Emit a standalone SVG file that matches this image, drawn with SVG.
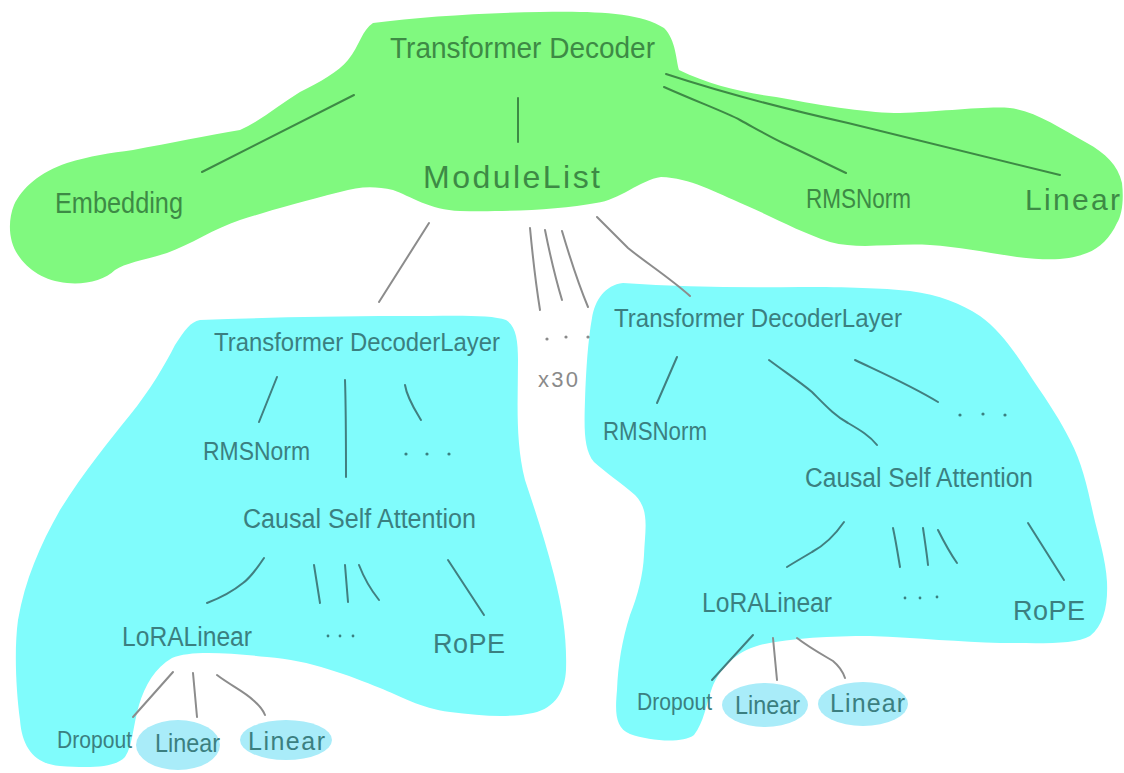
<svg xmlns="http://www.w3.org/2000/svg" width="1124" height="773" viewBox="0 0 1124 773">
  <style>
    .blob-green { fill: #80f97f; }
    .blob-cyan { fill: #80fcfc; }
    .blob-leaf { fill: #a9ecf9; }
    .t { font-family: "Liberation Sans", Arial, sans-serif; }
    .fit { }
    .tg { fill: #3d8a45; }
    .tc { fill: #3b7f80; }
    .tx { fill: #8a8a8a; }
    .edge { fill: none; stroke-width: 2; stroke-linecap: round; stroke-linejoin: round; }
    .eg { stroke: #3d8a45; }
    .ec { stroke: #417f80; }
    .ex { stroke: #8c8c8c; }
    .dc { fill: #3b7f80; }
    .dx { fill: #8a8a8a; }
  </style>

  <rect width="1124" height="773" fill="#ffffff"/>

  <!-- background regions -->
  <g id="regions">
    <path class="blob-green" d="M373,23 C420,17 480,13 540,12 C590,11 640,12 664,28 C676,40 676,60 679,70 C710,85 740,92 776,97 C830,107 870,113 900,113 C940,112 985,106 1010,108 C1035,111 1060,128 1087,143 C1105,153 1118,165 1122,183 C1124,200 1122,215 1117,223 C1110,238 1100,248 1087,253 C1070,260 1050,261 1017,257 C990,253 960,247 930,245 C890,243 860,250 830,242 C800,232 775,218 745,205 C715,192 690,178 661,177 C640,180 620,200 596,203 C560,210 500,212 460,211 C430,210 410,196 393,190 C375,186 360,186 340,192 C300,202 265,212 240,220 C215,228 190,245 167,253 C145,260 125,263 115,270 C105,280 85,285 67,283 C45,281 28,270 18,255 C8,240 8,220 14,205 C22,188 40,172 67,163 C90,156 110,153 133,150 C170,143 210,135 240,130 C262,120 280,104 300,92 C320,82 338,72 348,60 C360,45 362,30 373,23 Z"/>
    <path class="blob-cyan" d="M200,320 C260,318 320,316 400,316 C450,316 490,314 506,320 C516,326 518,340 518,360 C518,400 515,440 525,480 C535,510 545,540 554,575 C563,610 567,640 566,670 C565,690 556,708 533,713 C510,718 480,716 450,712 C420,708 400,696 380,688 C350,676 310,660 267,657 C230,653 190,650 172,658 C155,668 145,685 139,705 C133,725 133,745 125,757 C115,768 90,768 60,766 C35,764 22,748 20,720 C16,690 14,650 18,620 C25,580 40,545 60,510 C85,470 110,440 130,415 C150,390 165,365 175,345 C185,330 190,322 200,320 Z"/>
    <path class="blob-cyan" d="M623,283 C680,287 740,288 800,287 C850,287 880,288 910,291 C940,295 960,303 980,316 C1000,330 1015,352 1033,380 C1050,405 1060,420 1070,440 C1082,462 1088,490 1093,513 C1098,535 1106,560 1107,582 C1108,605 1104,625 1090,636 C1075,645 1040,643 1000,643 C960,642 920,638 870,636 C830,636 790,638 760,645 C735,652 720,668 712,688 C706,705 704,722 694,735 C682,744 650,741 630,734 C615,728 615,712 617,690 C618,665 622,640 630,615 C638,595 643,575 644,555 C645,530 650,510 635,495 C620,482 605,472 594,462 C584,450 584,430 585,400 C586,370 588,340 592,318 C595,300 605,285 623,283 Z"/>
  </g>

  <!-- connectors -->
  <g id="connectors">
    <!-- Transformer Decoder children -->
    <path class="edge eg" d="M354,95 L202,172"/>
    <path class="edge eg" d="M518,98 L518,142"/>
    <path class="edge eg" d="M664,87 C700,103 725,112 740,120 C760,131 772,138 783,143 C805,153 825,163 846,173"/>
    <path class="edge eg" d="M666,74 C730,95 790,110 848,123 C920,140 990,158 1060,175"/>

    <!-- ModuleList children -->
    <path class="edge ex" d="M429,223 L379,302"/>
    <path class="edge ex" d="M530,228 C533,260 536,285 540,310"/>
    <path class="edge ex" d="M545,230 C550,255 556,280 562,300"/>
    <path class="edge ex" d="M562,231 C570,258 578,283 588,307"/>
    <path class="edge ex" d="M597,217 L628,248 C645,262 670,278 690,296"/>

    <!-- first layer -->
    <path class="edge ec" d="M277,377 L259,422"/>
    <path class="edge ec" d="M345,380 C346,410 346,445 346,477"/>
    <path class="edge ec" d="M405,385 C407,398 415,410 421,420"/>
    <path class="edge ec" d="M264,558 C256,570 250,578 243,583 C232,592 220,598 207,603"/>
    <path class="edge ec" d="M314,565 C316,578 318,590 320,603"/>
    <path class="edge ec" d="M345,565 C346,578 347,590 348,602"/>
    <path class="edge ec" d="M359,565 C364,578 371,590 379,600"/>
    <path class="edge ec" d="M448,560 L484,615"/>
    <path class="edge ex" d="M173,672 L133,717"/>
    <path class="edge ex" d="M193,673 L197,717"/>
    <path class="edge ex" d="M217,675 C230,685 245,692 253,700 C259,705 263,710 265,715"/>

    <!-- last layer -->
    <path class="edge ec" d="M677,357 L657,403"/>
    <path class="edge ec" d="M769,360 C785,372 800,382 812,392 C825,405 835,416 848,423 C860,430 870,436 877,445"/>
    <path class="edge ec" d="M855,360 C880,372 910,385 938,402"/>
    <path class="edge ec" d="M844,522 C835,535 825,545 812,552 C802,558 795,562 787,567"/>
    <path class="edge ec" d="M893,528 C896,542 898,555 900,567"/>
    <path class="edge ec" d="M923,528 C925,542 927,555 928,565"/>
    <path class="edge ec" d="M938,530 C944,542 950,553 957,563"/>
    <path class="edge ec" d="M1028,523 L1064,580"/>
    <path class="edge ec" d="M753,635 L712,680"/>
    <path class="edge ex" d="M773,638 L777,680"/>
    <path class="edge ex" d="M797,638 C810,648 823,655 833,661 C839,666 843,672 845,678"/>
  </g>

  <!-- repeat marker between the layers -->
  <g id="repeat">
    <circle class="dx" cx="547" cy="339" r="1.6"/>
    <circle class="dx" cx="566" cy="337" r="1.6"/>
    <circle class="dx" cx="588" cy="337" r="1.6"/>
    <text class="t tx" x="538" y="387" font-size="22" textLength="40">x30</text>
  </g>

  <!-- top level -->
  <g id="transformer-decoder">
    <text class="t tg" x="390" y="58" font-size="29" textLength="265" lengthAdjust="spacingAndGlyphs">Transformer Decoder</text>
  </g>
  <g id="embedding">
    <text class="t tg" x="55" y="213" font-size="30" textLength="128" lengthAdjust="spacingAndGlyphs">Embedding</text>
  </g>
  <g id="module-list">
    <text class="t tg" x="423" y="188" font-size="32" textLength="177">ModuleList</text>
  </g>
  <g id="final-norm">
    <text class="t tg" x="806" y="208" font-size="27" textLength="105" lengthAdjust="spacingAndGlyphs">RMSNorm</text>
  </g>
  <g id="output-linear">
    <text class="t tg" x="1025" y="210" font-size="30" textLength="95">Linear</text>
  </g>

  <!-- first decoder layer -->
  <g id="layer-a">
    <text class="t tc" x="214" y="351" font-size="26" textLength="286" lengthAdjust="spacingAndGlyphs">Transformer DecoderLayer</text>
  </g>
  <g id="layer-a-norm">
    <text class="t tc" x="203" y="460" font-size="25" textLength="107" lengthAdjust="spacingAndGlyphs">RMSNorm</text>
  </g>
  <g id="layer-a-more">
    <circle class="dc" cx="406" cy="454" r="1.6"/>
    <circle class="dc" cx="427" cy="454" r="1.6"/>
    <circle class="dc" cx="449" cy="454" r="1.6"/>
  </g>
  <g id="layer-a-attn">
    <text class="t tc" x="243" y="528" font-size="27" textLength="233" lengthAdjust="spacingAndGlyphs">Causal Self Attention</text>
  </g>
  <g id="layer-a-lora">
    <text class="t tc" x="122" y="646" font-size="27" textLength="130" lengthAdjust="spacingAndGlyphs">LoRALinear</text>
  </g>
  <g id="layer-a-attn-more">
    <circle class="dc" cx="328" cy="636" r="1.4"/>
    <circle class="dc" cx="340" cy="636" r="1.4"/>
    <circle class="dc" cx="353" cy="636" r="1.4"/>
  </g>
  <g id="layer-a-rope">
    <text class="t tc" x="433" y="653" font-size="27" textLength="72">RoPE</text>
  </g>
  <g id="layer-a-dropout">
    <text class="t tc" x="57" y="748" font-size="24" textLength="75" lengthAdjust="spacingAndGlyphs">Dropout</text>
  </g>
  <g id="layer-a-lora-a">
    <ellipse class="blob-leaf" cx="178" cy="745" rx="42" ry="25"/>
    <text class="t tc" x="155" y="752" font-size="25" textLength="65" lengthAdjust="spacingAndGlyphs">Linear</text>
  </g>
  <g id="layer-a-lora-b">
    <ellipse class="blob-leaf" cx="286" cy="740" rx="46" ry="20"/>
    <text class="t tc" x="248" y="750" font-size="25" textLength="77">Linear</text>
  </g>

  <!-- last decoder layer -->
  <g id="layer-b">
    <text class="t tc" x="614" y="327" font-size="26" textLength="288" lengthAdjust="spacingAndGlyphs">Transformer DecoderLayer</text>
  </g>
  <g id="layer-b-norm">
    <text class="t tc" x="603" y="440" font-size="25" textLength="104" lengthAdjust="spacingAndGlyphs">RMSNorm</text>
  </g>
  <g id="layer-b-more">
    <circle class="dc" cx="960" cy="415" r="1.6"/>
    <circle class="dc" cx="983" cy="414" r="1.6"/>
    <circle class="dc" cx="1005" cy="415" r="1.6"/>
  </g>
  <g id="layer-b-attn">
    <text class="t tc" x="805" y="487" font-size="27" textLength="228" lengthAdjust="spacingAndGlyphs">Causal Self Attention</text>
  </g>
  <g id="layer-b-lora">
    <text class="t tc" x="702" y="612" font-size="27" textLength="130" lengthAdjust="spacingAndGlyphs">LoRALinear</text>
  </g>
  <g id="layer-b-attn-more">
    <circle class="dc" cx="905" cy="598" r="1.4"/>
    <circle class="dc" cx="920" cy="598" r="1.4"/>
    <circle class="dc" cx="937" cy="597" r="1.4"/>
  </g>
  <g id="layer-b-rope">
    <text class="t tc" x="1013" y="620" font-size="27" textLength="72">RoPE</text>
  </g>
  <g id="layer-b-dropout">
    <text class="t tc" x="637" y="710" font-size="24" textLength="75" lengthAdjust="spacingAndGlyphs">Dropout</text>
  </g>
  <g id="layer-b-lora-a">
    <ellipse class="blob-leaf" cx="765" cy="705" rx="43" ry="22"/>
    <text class="t tc" x="735" y="714" font-size="25" textLength="65" lengthAdjust="spacingAndGlyphs">Linear</text>
  </g>
  <g id="layer-b-lora-b">
    <ellipse class="blob-leaf" cx="863" cy="704" rx="45" ry="22"/>
    <text class="t tc" x="830" y="712" font-size="25" textLength="75">Linear</text>
  </g>
</svg>
